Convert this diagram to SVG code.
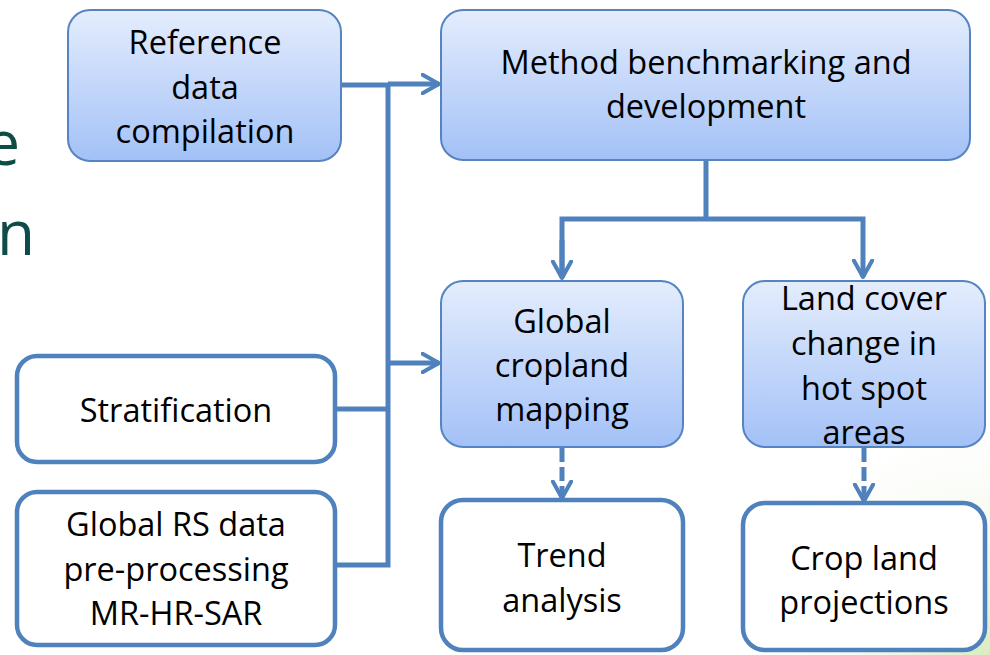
<svg xmlns="http://www.w3.org/2000/svg" width="990" height="655" viewBox="0 0 990 655">
<defs>
<linearGradient id="blue" x1="0" y1="0" x2="0" y2="1">
<stop offset="0" stop-color="#e4edfd"/>
<stop offset="1" stop-color="#a3c1f7"/>
</linearGradient>
<radialGradient id="bg" cx="990" cy="655" r="260" gradientUnits="userSpaceOnUse">
<stop offset="0" stop-color="#d9ecbf"/>
<stop offset="1" stop-color="#ffffff" stop-opacity="0"/>
</radialGradient>
<marker id="arr" viewBox="0 0 12 12" refX="10" refY="6" markerWidth="4.4" markerHeight="4.4" orient="auto" markerUnits="strokeWidth">
<path d="M1,1 L10,6 L1,11" fill="none" stroke="#4f81bd" stroke-width="2.2" stroke-linecap="round" stroke-linejoin="round"/>
</marker>
<style>
.bn{fill:url(#blue);stroke:#5584c0;stroke-width:2}
.wn{fill:#ffffff;stroke:#4f81bd;stroke-width:4.5}
.t{font-family:"Open Sans",Lato,sans-serif;font-size:32.5px;fill:#000;text-anchor:middle}
.c{fill:none;stroke:#4f81bd;stroke-width:5}
.d{stroke-dasharray:14 5}
.title{font-family:"Open Sans",Lato,sans-serif;font-size:62px;fill:#0d4c47;text-anchor:end}
</style>
</defs>
<rect x="0" y="0" width="990" height="655" fill="#ffffff"/>
<rect x="0" y="0" width="990" height="655" fill="url(#bg)"/>
<text class="title" x="20" y="165">e</text>
<text class="title" x="35" y="255">n</text>
<g id="connectors">
<polyline class="c" points="341,85 388,85 388,565 335,565"/>
<line class="c" x1="335" y1="409" x2="388" y2="409"/>
<line class="c" x1="388" y1="84" x2="439" y2="84" marker-end="url(#arr)"/>
<line class="c" x1="388" y1="363" x2="439" y2="363" marker-end="url(#arr)"/>
<line class="c" x1="706" y1="160" x2="706" y2="219"/>
<polyline class="c" points="562,277 562,219 863,219 863,277" marker-end="url(#arr)"/>
<line class="c" x1="562" y1="240" x2="562" y2="278" marker-end="url(#arr)"/>
<line class="c d" x1="562" y1="448" x2="562" y2="498" marker-end="url(#arr)"/>
<line class="c d" x1="864" y1="448" x2="864" y2="501" marker-end="url(#arr)"/>
</g>
<g id="reference">
<rect class="bn" x="68" y="10" width="273" height="151" rx="22"/>
<text class="t" x="205" y="54">Reference</text>
<text class="t" x="205" y="99">data</text>
<text class="t" x="205" y="143">compilation</text>
</g>
<g id="method">
<rect class="bn" x="441" y="10" width="529" height="150" rx="22"/>
<text class="t" x="706" y="74">Method benchmarking and</text>
<text class="t" x="706" y="118">development</text>
</g>
<g id="cropland">
<rect class="bn" x="441" y="281" width="242" height="166" rx="22"/>
<text class="t" x="562" y="333">Global</text>
<text class="t" x="562" y="377">cropland</text>
<text class="t" x="562" y="421">mapping</text>
</g>
<g id="landcover">
<rect class="bn" x="743" y="281" width="242" height="166" rx="22"/>
<text class="t" x="864" y="310">Land cover</text>
<text class="t" x="864" y="355">change in</text>
<text class="t" x="864" y="400">hot spot</text>
<text class="t" x="864" y="444">areas</text>
</g>
<g id="stratification">
<rect class="wn" x="17" y="356" width="318" height="106" rx="20"/>
<text class="t" x="176" y="422">Stratification</text>
</g>
<g id="rsdata">
<rect class="wn" x="17" y="492" width="318" height="153" rx="20"/>
<text class="t" x="176" y="536">Global RS data</text>
<text class="t" x="176" y="581">pre-processing</text>
<text class="t" x="176" y="625">MR-HR-SAR</text>
</g>
<g id="trend">
<rect class="wn" x="441" y="500" width="242" height="150" rx="22"/>
<text class="t" x="562" y="567">Trend</text>
<text class="t" x="562" y="612">analysis</text>
</g>
<g id="projections">
<rect class="wn" x="743" y="503" width="242" height="147" rx="22"/>
<text class="t" x="864" y="570">Crop land</text>
<text class="t" x="864" y="614">projections</text>
</g>
</svg>
